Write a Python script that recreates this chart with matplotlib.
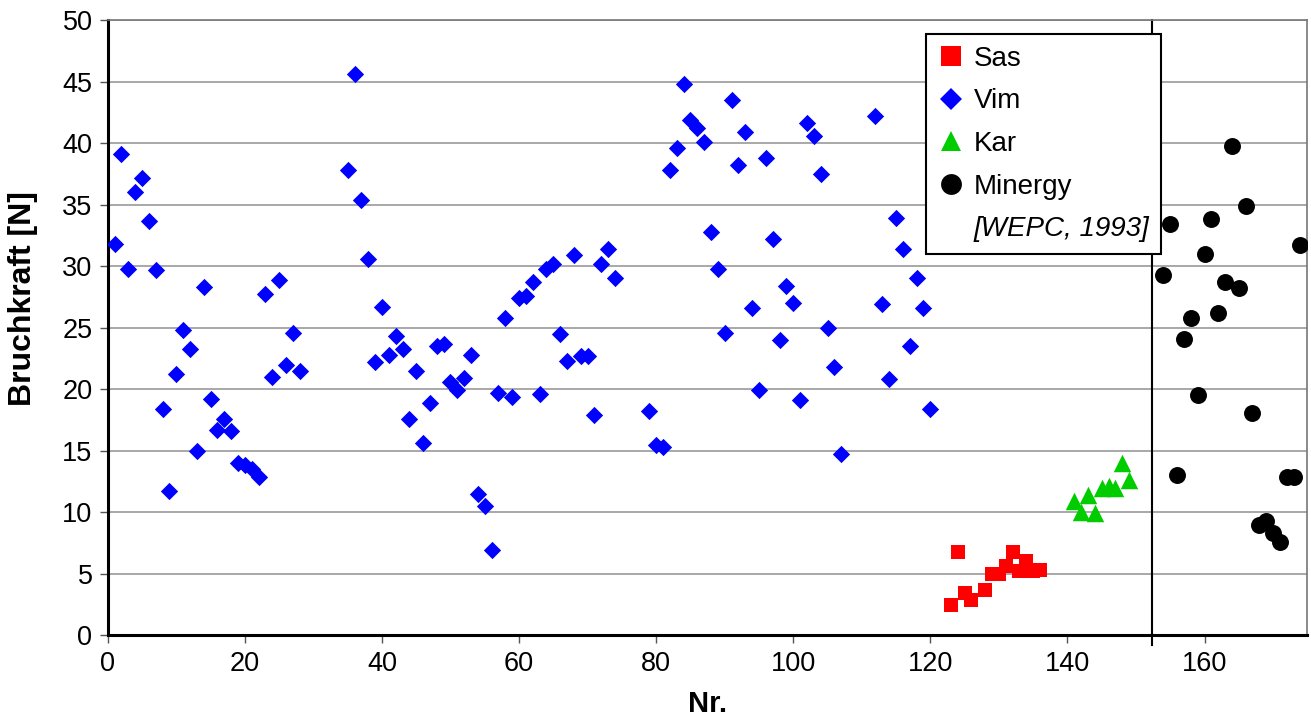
import matplotlib
matplotlib.use("Agg")
import matplotlib.pyplot as plt
from matplotlib.lines import Line2D

plt.rcParams['font.family'] = ['Liberation Sans', 'DejaVu Sans']

# Breaking force per sample number, by pellet type
vim_nr = [1, 2, 3, 4, 5, 6, 7, 8, 9, 10, 11, 12, 13, 14, 15, 16, 17, 18, 19, 20,
          21, 22, 23, 24, 25, 26, 27, 28,
          35, 36, 37, 38, 39, 40, 41, 42, 43, 44, 45, 46, 47, 48, 49, 50, 51, 52,
          53, 54, 55, 56, 57, 58, 59, 60, 61, 62, 63, 64, 65, 66, 67, 68, 69, 70,
          71, 72, 73, 74,
          79, 80, 81, 82, 83, 84, 85, 86, 87, 88, 89, 90, 91, 92, 93, 94, 95, 96,
          97, 98, 99, 100, 101, 102, 103, 104, 105, 106, 107,
          112, 113, 114, 115, 116, 117, 118, 119, 120]
vim_force = [31.8, 39.1, 29.8, 36.0, 37.2, 33.7, 29.7, 18.4, 11.7, 21.2, 24.8, 23.3,
             15.0, 28.3, 19.2, 16.7, 17.6, 16.6, 14.0, 13.8, 13.5, 12.9, 27.7, 21.0,
             28.9, 22.0, 24.6, 21.5,
             37.8, 45.6, 35.4, 30.6, 22.2, 26.7, 22.8, 24.3, 23.3, 17.6, 21.5, 15.6,
             18.9, 23.5, 23.7, 20.6, 19.9, 20.9, 22.8, 11.5, 10.5, 6.9, 19.7, 25.8,
             19.4, 27.4, 27.6, 28.7, 19.6, 29.8, 30.2, 24.5, 22.3, 30.9, 22.7, 22.7,
             17.9, 30.2, 31.4, 29.0,
             18.2, 15.5, 15.3, 37.8, 39.6, 44.8, 41.9, 41.2, 40.1, 32.8, 29.8, 24.6,
             43.5, 38.2, 40.9, 26.6, 19.9, 38.8, 32.2, 24.0, 28.4, 27.0, 19.1, 41.6,
             40.6, 37.5, 25.0, 21.8, 14.7,
             42.2, 26.9, 20.8, 33.9, 31.4, 23.5, 29.0, 26.6, 18.4]

sas_nr = [123, 124, 125, 126, 128, 129, 130, 131, 132, 133, 134, 135, 136]
sas_force = [2.5, 6.8, 3.4, 2.9, 3.7, 5.0, 5.0, 5.6, 6.8, 5.2, 6.0, 5.2, 5.3]

kar_nr = [141, 142, 143, 144, 145, 146, 147, 148, 149]
kar_force = [10.9, 10.0, 11.4, 9.9, 12.0, 12.1, 12.0, 14.0, 12.6]

min_nr = [154, 155, 156, 157, 158, 159, 160, 161, 162, 163, 164, 165, 166, 167,
          168, 169, 170, 171, 172, 173, 174]
min_force = [29.3, 33.4, 13.0, 24.1, 25.8, 19.5, 31.0, 33.8, 26.2, 28.7, 39.8, 28.2,
             34.9, 18.1, 9.0, 9.3, 8.3, 7.6, 12.9, 12.9, 31.7]

separator_nr = 152.4
x_ticks = [0, 20, 40, 60, 80, 100, 120, 140, 160]
y_ticks = [0, 5, 10, 15, 20, 25, 30, 35, 40, 45, 50]

fig = plt.figure(figsize=(13.11, 7.22), dpi=100)
ax = fig.add_axes([0.0822, 0.1201, 0.9150, 0.8522])

ax.scatter(sas_nr, sas_force, marker='s', s=10.0**2, color='#ff0000',
           linewidths=0, zorder=3)
ax.scatter(vim_nr, vim_force, marker='D', s=8.8**2, color='#0000ff',
           linewidths=0, zorder=3)
ax.scatter(kar_nr, kar_force, marker='^', s=12.6**2, color='#00cc00',
           linewidths=0, zorder=3)
ax.scatter(min_nr, min_force, marker='o', s=12.2**2, color='#000000',
           linewidths=0, zorder=3)

# separator between own measurements and literature values
ax.axvline(separator_nr, ymin=-0.016, ymax=1, color='black', linewidth=1.5,
           zorder=2, clip_on=False)

ax.set_xlim(0, 175)
ax.set_ylim(0, 50)
ax.set_xticks(x_ticks)
ax.set_yticks(y_ticks)
ax.tick_params(axis='both', labelsize=19.5, direction='out', length=6,
               width=1, color='#555555', pad=5)
ax.yaxis.grid(True, color='#999999', linewidth=1.2)
ax.set_axisbelow(True)

for side in ('top', 'right'):
    ax.spines[side].set_color('#777777')
    ax.spines[side].set_linewidth(1.2)
for side in ('left', 'bottom'):
    ax.spines[side].set_color('black')
    ax.spines[side].set_linewidth(2.2)

ax.set_xlabel('Nr.', fontsize=21, fontweight='bold', labelpad=10)
ax.set_ylabel('Bruchkraft [N]', fontsize=23, fontweight='bold')
ax.yaxis.set_label_coords(-0.058, 0.547)

handles = [
    Line2D([], [], linestyle='none', marker='s', markersize=14.0,
           color='#ff0000', markeredgewidth=0),
    Line2D([], [], linestyle='none', marker='D', markersize=11.0,
           color='#0000ff', markeredgewidth=0),
    Line2D([], [], linestyle='none', marker='^', markersize=14.5,
           color='#00cc00', markeredgewidth=0),
    Line2D([], [], linestyle='none', marker='o', markersize=15.0,
           color='#000000', markeredgewidth=0),
    Line2D([], [], linestyle='none'),
]
labels = ['Sas', 'Vim', 'Kar', 'Minergy', '[WEPC, 1993]']
leg = ax.legend(handles, labels, loc='upper left',
                bbox_to_anchor=(0.682, 0.977), fontsize=20, frameon=True,
                fancybox=False, edgecolor='black', framealpha=1,
                labelspacing=0.6, handlelength=1.0, handletextpad=0.3,
                borderpad=0.42, borderaxespad=0)
leg.get_frame().set_linewidth(1.5)
leg.get_texts()[4].set_style('italic')

fig.savefig('out.png', dpi=100)
